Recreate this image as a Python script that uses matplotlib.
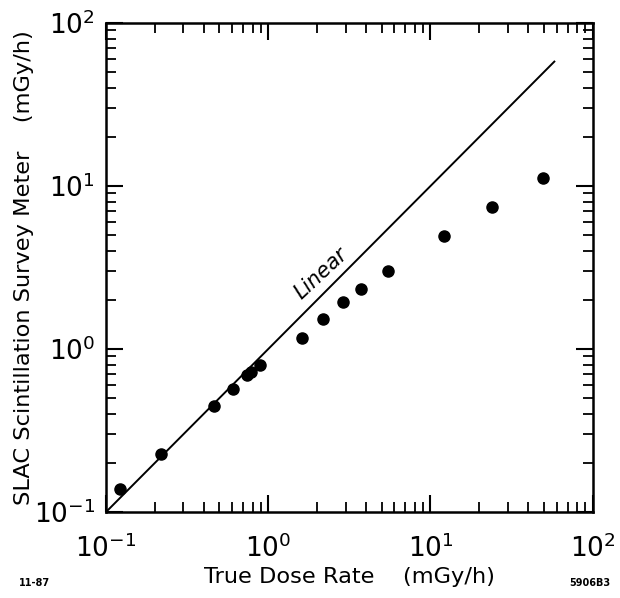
import matplotlib
matplotlib.use("Agg")
import matplotlib.pyplot as plt
from matplotlib.ticker import LogLocator, FixedLocator, NullFormatter

# Data
true_dose = [0.122, 0.218, 0.462, 0.607, 0.739, 0.782, 0.889, 1.61, 2.16, 2.90, 3.72, 5.45, 12.2, 24.1, 49.3]
meter_reading = [0.138, 0.227, 0.447, 0.569, 0.692, 0.723, 0.798, 1.17, 1.53, 1.95, 2.34, 3.01, 4.96, 7.40, 11.2]
linear_x = [0.1, 58.0]
linear_y = [0.1, 58.0]
major_ticks = [0.1, 1, 10, 100]
major_labels = ["10$^{-1}$", "10$^{0}$", "10$^{1}$", "10$^{2}$"]

plt.rcParams['font.family'] = ['DejaVu Sans']
plt.rcParams['mathtext.fontset'] = 'dejavusans'

fig = plt.figure(figsize=(6.2, 5.98), dpi=100)
ax = fig.add_axes([0.171, 0.1438, 0.785, 0.8177])

ax.plot(linear_x, linear_y, color='black', lw=1.4)
ax.plot(true_dose, meter_reading, 'o', color='black', markersize=8)

ax.set_xscale('log')
ax.set_yscale('log')
ax.set_xlim(0.1, 100)
ax.set_ylim(0.1, 100)

for axis in (ax.xaxis, ax.yaxis):
    axis.set_major_locator(FixedLocator(major_ticks))
    axis.set_minor_locator(LogLocator(base=10, subs=range(2, 10), numticks=20))
    axis.set_minor_formatter(NullFormatter())
ax.set_xticklabels(major_labels)
ax.set_yticklabels(major_labels)

ax.tick_params(which='both', direction='in', top=True, right=True, color='black')
ax.tick_params(which='major', length=12, width=1.5, labelsize=19)
ax.tick_params(which='minor', length=7, width=1.3)
ax.tick_params(axis='x', which='major', pad=16)
ax.tick_params(axis='y', which='major', pad=8)
for s in ax.spines.values():
    s.set_linewidth(1.8)

ax.set_xlabel("True Dose Rate    (mGy/h)", fontsize=16.2, labelpad=3)
ax.set_ylabel("SLAC Scintillation Survey Meter    (mGy/h)", fontsize=16.2, labelpad=0)

ax.text(2.12, 2.92, "Linear", fontsize=15, style='italic', rotation=43,
        ha='center', va='center')

fig.text(35/620, 1 - 583/598, "11-87", fontsize=7, fontweight='bold', ha='center', va='center')
fig.text(590/620, 1 - 583/598, "5906B3", fontsize=7, fontweight='bold', ha='center', va='center')

fig.savefig("out.png", dpi=100)
